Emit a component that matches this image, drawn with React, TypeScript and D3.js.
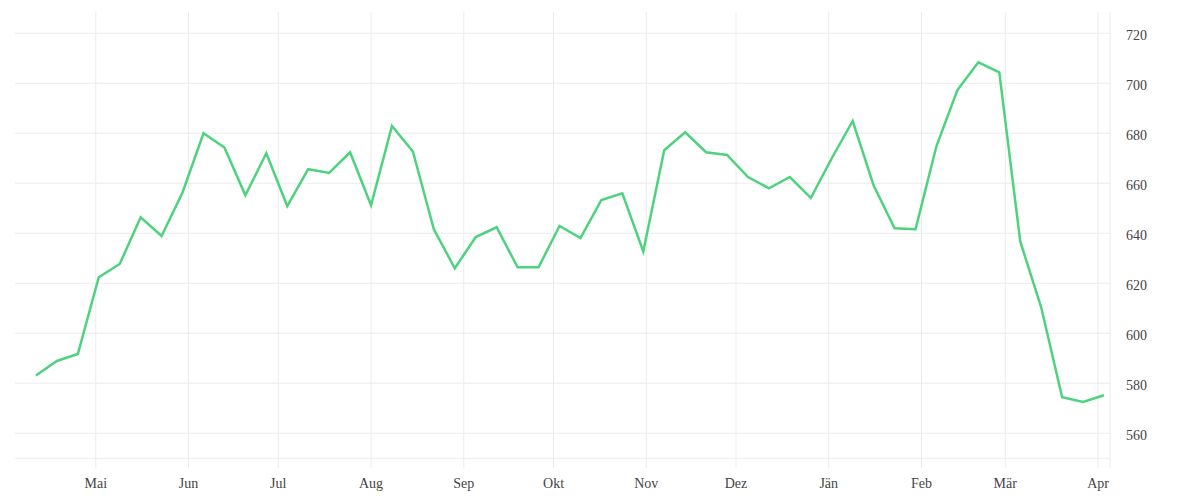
import React from "react";
import * as d3 from "d3";

const dates: string[] = [
  "2022-04-11", "2022-04-18", "2022-04-25", "2022-05-02", "2022-05-09", "2022-05-16", "2022-05-23", "2022-05-30",
  "2022-06-06", "2022-06-13", "2022-06-20", "2022-06-27", "2022-07-04", "2022-07-11", "2022-07-18", "2022-07-25",
  "2022-08-01", "2022-08-08", "2022-08-15", "2022-08-22", "2022-08-29", "2022-09-05", "2022-09-12", "2022-09-19",
  "2022-09-26", "2022-10-03", "2022-10-10", "2022-10-17", "2022-10-24", "2022-10-31", "2022-11-07", "2022-11-14",
  "2022-11-21", "2022-11-28", "2022-12-05", "2022-12-12", "2022-12-19", "2022-12-26", "2023-01-02", "2023-01-09",
  "2023-01-16", "2023-01-23", "2023-01-30", "2023-02-06", "2023-02-13", "2023-02-20", "2023-02-27", "2023-03-06",
  "2023-03-13", "2023-03-20", "2023-03-27", "2023-04-03",
];

const values: number[] = [
  583.1, 588.9, 591.7, 622.4, 627.7, 646.4, 638.9, 656.3, 680, 674.3,
  655.2, 672, 650.9, 665.6, 664.1, 672.4, 651.2, 682.9, 672.7, 641.6,
  626, 638.5, 642.4, 626.4, 626.4, 642.9, 638.1, 653.3, 656, 632.7,
  673.2, 680.4, 672.4, 671.3, 662.5, 658, 662.5, 654.1, 670, 684.9,
  659.1, 642, 641.6, 674.9, 697.3, 708.4, 704.4, 636.7, 610.4, 574.4,
  572.5, 575.2,
];

const monthTicks: string[] = [
  "2022-05-01", "2022-06-01", "2022-07-01", "2022-08-01", "2022-09-01", "2022-10-01",
  "2022-11-01", "2022-12-01", "2023-01-01", "2023-02-01", "2023-03-01", "2023-04-01",
];
const monthLabels: string[] = ["Mai", "Jun", "Jul", "Aug", "Sep", "Okt", "Nov", "Dez", "Jän", "Feb", "Mär", "Apr"];

const yTicks: number[] = [560, 580, 600, 620, 640, 660, 680, 700, 720];
const yGrid: number[] = [550, 560, 580, 600, 620, 640, 660, 680, 700, 720];

const parse = (s: string) => {
  const [y, m, d] = s.split("-").map(Number);
  return new Date(y, m - 1, d);
};

export default function App() {
  const left = 15;
  const right = 1110;
  const top = 12;
  const bottom = 468;

  const x = d3
    .scaleTime()
    .domain([parse("2022-04-04"), parse("2023-04-05")])
    .range([left, right]);
  const y = d3.scaleLinear().domain([546.1, 728.5]).range([bottom, top]);

  const data = dates.map((d, i) => ({ date: parse(d), value: values[i] }));
  const line = d3
    .line<{ date: Date; value: number }>()
    .x((d) => x(d.date))
    .y((d) => y(d.value));

  const gridColor = "#ebebeb";
  const font = "'Liberation Serif', 'DejaVu Serif', serif";

  return (
    <svg
      width={1200}
      height={500}
      style={{ position: "absolute", left: 0, top: 0, display: "block", background: "#fff" }}
    >
      {yGrid.map((v) => (
        <line key={"h" + v} x1={left} x2={right} y1={y(v)} y2={y(v)} stroke={gridColor} strokeWidth={1} />
      ))}
      {monthTicks.map((m) => (
        <line
          key={"v" + m}
          x1={x(parse(m))}
          x2={x(parse(m))}
          y1={top}
          y2={bottom}
          stroke={gridColor}
          strokeWidth={1}
        />
      ))}
      <line x1={right} x2={right} y1={top} y2={bottom} stroke={gridColor} strokeWidth={1} />
      <path d={line(data) || ""} fill="none" stroke="#4ed27e" strokeWidth={2.5} strokeLinejoin="miter" />
      {yTicks.map((v) => (
        <text
          key={"yt" + v}
          x={1126}
          y={y(v)}
          dy="0.48em"
          fontFamily={font}
          fontSize={14}
          fill="#444"
        >
          {v}
        </text>
      ))}
      {monthTicks.map((m, i) => (
        <text
          key={"xt" + m}
          x={x(parse(m))}
          y={488}
          textAnchor="middle"
          fontFamily={font}
          fontSize={14}
          fill="#444"
        >
          {monthLabels[i]}
        </text>
      ))}
    </svg>
  );
}
